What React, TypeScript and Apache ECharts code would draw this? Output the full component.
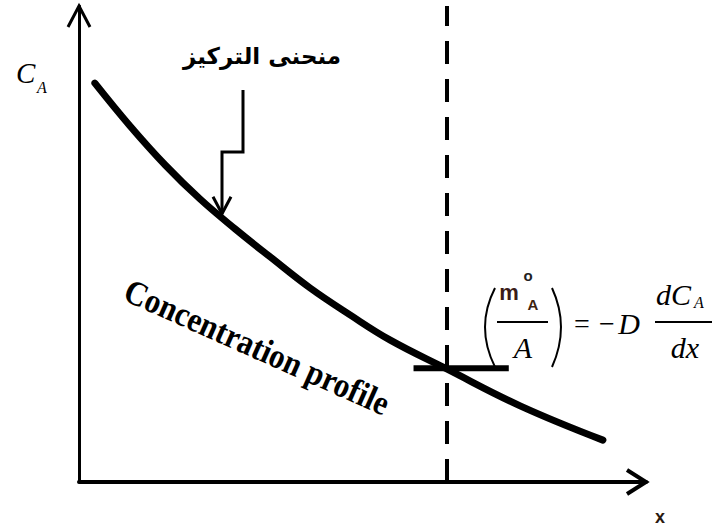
import React, { useEffect, useRef } from "react";
import * as echarts from "echarts";

// Concentration profile C_A(x), decaying with distance
const profileX = [0.28, 0.9, 1.52, 2.13, 2.75, 3.37, 4.07, 4.78, 5.49, 6.46, 7.78, 9.24];
const profileY = [8.38, 7.48, 6.66, 5.95, 5.32, 4.73, 4.08, 3.51, 2.98, 2.39, 1.6, 0.88];

// Plane where the flux is evaluated, and the short tangent marker on it
const planeX = 6.48;
const markerX = [5.9, 7.58];
const markerY = [2.39, 2.39];

// Axis extents
const xMax = 10;
const yMax = 10;

// Point of the profile pointed at by the Arabic label's arrow
const labelTargetIndex = 3;

const INK = "#000";
const MATH_FONT = "'Liberation Serif', 'DejaVu Serif', serif";
const SANS_FONT = "'Liberation Sans', Arial, sans-serif";

export default function App() {
  const ref = useRef<HTMLDivElement>(null);

  useEffect(() => {
    if (!ref.current) return;
    const chart = echarts.init(ref.current, null, { renderer: "svg" });

    const curveData = profileX.map((x, i) => [x, profileY[i]]);
    const markerData = markerX.map((x, i) => [x, markerY[i]]);

    chart.setOption({
      animation: false,
      backgroundColor: "#fff",
      grid: { left: 79, right: 69, top: 6, bottom: 47 },
      xAxis: {
        type: "value",
        min: 0,
        max: xMax,
        axisLine: { show: true, lineStyle: { color: INK, width: 4 } },
        axisTick: { show: false },
        axisLabel: { show: false },
        splitLine: { show: false },
      },
      yAxis: {
        type: "value",
        min: 0,
        max: yMax,
        axisLine: { show: true, lineStyle: { color: INK, width: 3 } },
        axisTick: { show: false },
        axisLabel: { show: false },
        splitLine: { show: false },
      },
      series: [
        {
          type: "line",
          data: curveData,
          smooth: 0.4,
          symbol: "none",
          lineStyle: { color: INK, width: 7, cap: "round" },
          z: 3,
          markLine: {
            silent: true,
            symbol: ["none", "none"],
            label: { show: false },
            lineStyle: { color: INK, width: 4, type: [23, 15] },
            data: [{ xAxis: planeX }],
          },
        },
        {
          type: "line",
          data: markerData,
          symbol: "none",
          lineStyle: { color: INK, width: 6, cap: "butt" },
          z: 4,
        },
      ],
    });

    const origin = chart.convertToPixel({ gridIndex: 0 }, [0, 0]) as number[];
    const xEnd = chart.convertToPixel({ gridIndex: 0 }, [xMax, 0]) as number[];
    const yEnd = chart.convertToPixel({ gridIndex: 0 }, [0, yMax]) as number[];
    const target = chart.convertToPixel({ gridIndex: 0 }, curveData[labelTargetIndex]) as number[];
    // arrow tip sits on the upper edge of the thick curve
    const tipX = 222;
    const tipY = target[1] + (tipX - target[0]) * 0.9 - 5;

    const stroke = (w: number) => ({ stroke: INK, lineWidth: w, fill: "none" });
    const txt = (
      text: string,
      x: number,
      y: number,
      font: string,
      align: string = "center",
      fill: string = INK
    ) => ({
      type: "text",
      x,
      y,
      style: { text, font, fill, align, verticalAlign: "middle" },
    });

    chart.setOption({
      graphic: [
        // axis arrowheads
        {
          type: "polyline",
          shape: { points: [[yEnd[0] - 11, yEnd[1] + 21], [yEnd[0], yEnd[1]], [yEnd[0] + 11, yEnd[1] + 21]] },
          style: stroke(3),
        },
        {
          type: "polyline",
          shape: { points: [[xEnd[0] - 19, xEnd[1] - 12], [xEnd[0], xEnd[1]], [xEnd[0] - 19, xEnd[1] + 12]] },
          style: stroke(4),
        },
        // axis names
        txt("C", 16, 73, `italic 29px ${MATH_FONT}`, "left"),
        txt("A", 37, 87, `italic 16px ${MATH_FONT}`, "left"),
        txt("x", origin[0] + 581, 517, `bold 18px ${SANS_FONT}`, "center", "#2a1a10"),
        // Arabic label and its stepped arrow
        txt("منحنى التركيز", 262, 56, `bold 23px 'DejaVu Sans', sans-serif`),
        {
          type: "polyline",
          shape: {
            points: [
              [tipX + 21, 90],
              [tipX + 21, 152],
              [tipX, 152],
              [tipX, tipY],
            ],
          },
          style: stroke(3),
        },
        {
          type: "polyline",
          shape: { points: [[tipX - 9, tipY - 17], [tipX, tipY], [tipX + 9, tipY - 17]] },
          style: stroke(3),
        },
        // curve caption
        {
          type: "text",
          x: 257,
          y: 347,
          rotation: (-24 * Math.PI) / 180,
          scaleY: 1.12,
          style: {
            text: "Concentration profile",
            font: `bold 31px ${MATH_FONT}`,
            fill: INK,
            align: "center",
            verticalAlign: "middle",
          },
        },
        // Fick's law: (m°_A / A) = -D dC_A/dx
        {
          type: "bezierCurve",
          shape: { x1: 495, y1: 288, cpx1: 475, cpy1: 327, x2: 495, y2: 367 },
          style: stroke(2),
        },
        {
          type: "bezierCurve",
          shape: { x1: 552, y1: 288, cpx1: 570, cpy1: 327, x2: 552, y2: 367 },
          style: stroke(2),
        },
        txt("m", 509, 292, `bold 22px ${SANS_FONT}`, "center", "#3a1c18"),
        txt("o", 528, 275, `bold 15px ${SANS_FONT}`, "center", "#222"),
        txt("A", 533, 304, `bold 15px ${SANS_FONT}`, "center", "#3d2410"),
        { type: "line", shape: { x1: 497, y1: 322, x2: 548, y2: 322 }, style: stroke(2) },
        txt("A", 523, 347, `italic 30px ${MATH_FONT}`),
        txt("=", 582, 323, `28px ${MATH_FONT}`),
        txt("\u2212", 607, 323, `28px ${MATH_FONT}`),
        txt("D", 629, 323, `italic 30px ${MATH_FONT}`),
        txt("dC", 656, 294, `italic 30px ${MATH_FONT}`, "left"),
        txt("A", 694, 302, `italic 16px ${MATH_FONT}`, "left"),
        { type: "line", shape: { x1: 655, y1: 322, x2: 712, y2: 322 }, style: stroke(2) },
        txt("dx", 685, 347, `italic 30px ${MATH_FONT}`),
      ],
    });

    return () => chart.dispose();
  }, []);

  return (
    <div
      ref={ref}
      style={{ position: "fixed", left: 0, top: 0, width: 715, height: 529, background: "#fff" }}
    />
  );
}
